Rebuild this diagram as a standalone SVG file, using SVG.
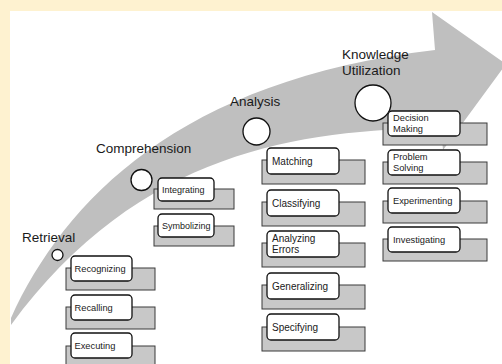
<svg xmlns="http://www.w3.org/2000/svg" width="502" height="364" viewBox="0 0 502 364">
<style>
.title{font-family:"Liberation Sans",Arial,sans-serif;font-size:13.5px;fill:#1a1a1a}
.lbl{font-family:"Liberation Sans",Arial,sans-serif;fill:#1a1a1a}
.back{fill:#c8c8c8;stroke:#3a3a3a;stroke-width:1}
.front{fill:#ffffff;stroke:#111;stroke-width:1.3}
.dot{fill:#ffffff;stroke:#111;stroke-width:1.3}
.c1 .lbl{font-size:9.3px}
.c2 .lbl{font-size:9px}
.c3 .lbl{font-size:10px}
.c4 .lbl{font-size:9.3px}
</style>
<defs>
<clipPath id="inner"><rect x="10" y="11" width="492" height="353"/></clipPath>
</defs>
<rect x="0" y="0" width="502" height="364" fill="#fef2d0"/>
<rect x="10" y="11" width="492" height="353" fill="#ffffff"/>
<g id="connectors" clip-path="url(#inner)">
<path id="arrow" d="M 11,318 C 65,200 180,80 435,50 L 432,12 L 506,64 L 443,150 L 441,128 C 300,130 140,150 11,325 Z" fill="#bfbfbf"/>
</g>
<g id="stage-retrieval">
<text class="title" x="22" y="242">Retrieval</text>
<circle class="dot" cx="57.5" cy="255" r="5.5"/>
</g>
<g id="stage-comprehension">
<text class="title" x="96" y="153">Comprehension</text>
<circle class="dot" cx="141.5" cy="180" r="10.5"/>
</g>
<g id="stage-analysis">
<text class="title" x="230" y="106">Analysis</text>
<circle class="dot" cx="256.5" cy="131.5" r="13.5"/>
</g>
<g id="stage-knowledge">
<text class="title" x="342" y="59">Knowledge</text>
<text class="title" x="342" y="75">Utilization</text>
<circle class="dot" cx="373" cy="103" r="18"/>
</g>
<g class="c1">
<g id="recognizing"><rect class="back" x="66" y="268" width="89" height="22"/><rect class="front" x="71" y="256" width="61" height="25" rx="4"/><text class="lbl" x="74.5" y="272">Recognizing</text></g>
<g id="recalling"><rect class="back" x="66" y="307" width="89" height="22"/><rect class="front" x="71" y="295" width="61" height="25" rx="4"/><text class="lbl" x="74.5" y="311">Recalling</text></g>
<g id="executing"><rect class="back" x="66" y="346" width="89" height="22"/><rect class="front" x="71" y="333" width="61" height="25" rx="4"/><text class="lbl" x="74.5" y="349">Executing</text></g>
</g>
<g class="c2">
<g id="integrating"><rect class="back" x="154" y="189" width="80" height="20"/><rect class="front" x="158" y="178" width="56" height="23" rx="4"/><text class="lbl" x="162" y="192.5">Integrating</text></g>
<g id="symbolizing"><rect class="back" x="154" y="226" width="80" height="20"/><rect class="front" x="158" y="214" width="56" height="23" rx="4"/><text class="lbl" x="162" y="228.5">Symbolizing</text></g>
</g>
<g class="c3">
<g id="matching"><rect class="back" x="262" y="160" width="103" height="24"/><rect class="front" x="267" y="148" width="72" height="26" rx="4"/><text class="lbl" x="272" y="164.5">Matching</text></g>
<g id="classifying"><rect class="back" x="262" y="202" width="103" height="24"/><rect class="front" x="267" y="190" width="72" height="26" rx="4"/><text class="lbl" x="272" y="206.5">Classifying</text></g>
<g id="analyzing-errors"><rect class="back" x="262" y="243" width="103" height="24"/><rect class="front" x="267" y="231" width="72" height="26" rx="4"/><text class="lbl" x="272" y="242">Analyzing</text><text class="lbl" x="272" y="253">Errors</text></g>
<g id="generalizing"><rect class="back" x="262" y="285" width="103" height="24"/><rect class="front" x="267" y="273" width="72" height="26" rx="4"/><text class="lbl" x="272" y="289.5">Generalizing</text></g>
<g id="specifying"><rect class="back" x="262" y="327" width="103" height="24"/><rect class="front" x="267" y="314" width="72" height="26" rx="4"/><text class="lbl" x="272" y="330.5">Specifying</text></g>
</g>
<g class="c4">
<g id="decision-making"><rect class="back" x="383" y="123" width="104" height="22"/><rect class="front" x="388" y="111" width="72" height="25" rx="4"/><text class="lbl" x="393" y="121">Decision</text><text class="lbl" x="393" y="132">Making</text></g>
<g id="problem-solving"><rect class="back" x="383" y="162" width="104" height="22"/><rect class="front" x="388" y="150" width="72" height="25" rx="4"/><text class="lbl" x="393" y="159.5">Problem</text><text class="lbl" x="393" y="170.5">Solving</text></g>
<g id="experimenting"><rect class="back" x="383" y="201" width="104" height="22"/><rect class="front" x="388" y="188" width="72" height="25" rx="4"/><text class="lbl" x="393" y="204">Experimenting</text></g>
<g id="investigating"><rect class="back" x="383" y="239" width="104" height="22"/><rect class="front" x="388" y="227" width="72" height="25" rx="4"/><text class="lbl" x="393" y="243">Investigating</text></g>
</g>
</svg>
